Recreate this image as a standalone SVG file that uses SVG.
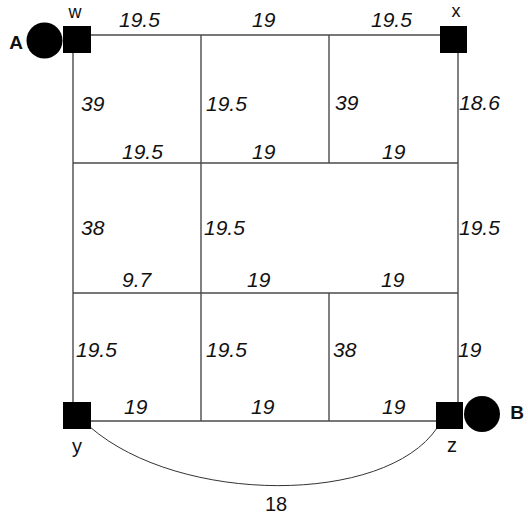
<svg xmlns="http://www.w3.org/2000/svg" width="528" height="518" viewBox="0 0 528 518">
  <style>
    .edge { stroke: #4a4a4a; stroke-width: 1.4; fill: none; }
    .arc { stroke: #333; stroke-width: 1; fill: none; }
    .w { font-family: "Liberation Sans", Arial, sans-serif; font-size: 21px; font-style: italic; fill: #111; }
    .lbl { font-family: "Liberation Sans", Arial, sans-serif; font-size: 20px; fill: #111; }
    .corner { font-family: "Liberation Sans", Arial, sans-serif; font-size: 18px; fill: #111; }
    .big { font-family: "Liberation Sans", Arial, sans-serif; font-size: 19px; font-weight: bold; fill: #111; }
    .sq { fill: #000; }
  </style>
  <rect width="528" height="518" fill="#fff"/>

  <!-- grid edges with their weights -->
  <g id="connectors">
    <line class="edge" x1="73" y1="35" x2="458" y2="35"/>
    <line class="edge" x1="73" y1="163" x2="458" y2="163"/>
    <line class="edge" x1="73" y1="293" x2="458" y2="293"/>
    <line class="edge" x1="73" y1="421" x2="458" y2="421"/>
    <line class="edge" x1="73" y1="35" x2="73" y2="421"/>
    <line class="edge" x1="458" y1="35" x2="458" y2="421"/>
    <line class="edge" x1="201" y1="35" x2="201" y2="421"/>
    <line class="edge" x1="329" y1="35" x2="329" y2="163"/>
    <line class="edge" x1="329" y1="293" x2="329" y2="421"/>
    <path class="arc" d="M 90 427 C 180 505, 385 505, 437 428"/>

    <!-- top row -->
    <text class="w" x="119" y="27">19.5</text>
    <text class="w" x="252" y="27">19</text>
    <text class="w" x="371" y="27">19.5</text>
    <!-- first band -->
    <text class="w" x="81" y="111">39</text>
    <text class="w" x="206" y="111">19.5</text>
    <text class="w" x="335" y="110">39</text>
    <text class="w" x="459" y="110">18.6</text>
    <text class="w" x="122" y="159">19.5</text>
    <text class="w" x="252" y="159">19</text>
    <text class="w" x="382" y="159">19</text>
    <!-- second band -->
    <text class="w" x="81" y="235">38</text>
    <text class="w" x="204" y="235">19.5</text>
    <text class="w" x="459" y="235">19.5</text>
    <text class="w" x="122" y="287">9.7</text>
    <text class="w" x="247" y="287">19</text>
    <text class="w" x="381" y="287">19</text>
    <!-- third band -->
    <text class="w" x="76" y="357">19.5</text>
    <text class="w" x="206" y="357">19.5</text>
    <text class="w" x="333" y="357">38</text>
    <text class="w" x="458" y="357">19</text>
    <text class="w" x="124" y="414">19</text>
    <text class="w" x="251" y="414">19</text>
    <text class="w" x="382" y="414">19</text>
    <!-- arc weight -->
    <text class="lbl" x="276" y="511" text-anchor="middle">18</text>
  </g>

  <g id="node-w">
    <rect class="sq" x="63" y="26" width="28" height="27"/>
    <text class="corner" x="75" y="17.5" text-anchor="middle">w</text>
  </g>
  <g id="node-x">
    <rect class="sq" x="440" y="26" width="27" height="27"/>
    <text class="corner" x="456" y="17" text-anchor="middle">x</text>
  </g>
  <g id="node-y">
    <rect class="sq" x="63" y="402" width="28" height="27"/>
    <text class="lbl" x="77" y="453" text-anchor="middle">y</text>
  </g>
  <g id="node-z">
    <rect class="sq" x="436" y="402" width="27" height="27"/>
    <text class="lbl" x="452" y="452" text-anchor="middle">z</text>
  </g>
  <g id="node-A">
    <circle cx="44.5" cy="40.5" r="18" fill="#000"/>
    <text class="big" x="16" y="49" text-anchor="middle">A</text>
  </g>
  <g id="node-B">
    <circle cx="482" cy="414" r="18" fill="#000"/>
    <text class="big" x="517" y="419" text-anchor="middle">B</text>
  </g>
</svg>
